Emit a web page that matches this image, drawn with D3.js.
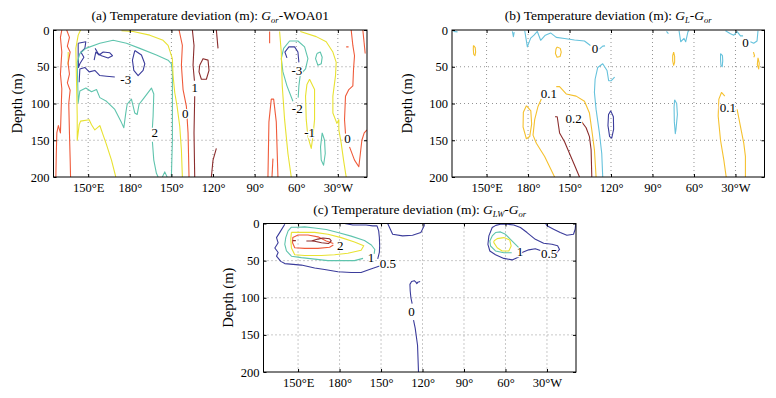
<!DOCTYPE html>
<html>
<head>
<meta charset="utf-8">
<title>temperature deviation sections</title>
<script src="https://d3js.org/d3.v7.min.js"></script>
<style>
body { margin: 0; background: #fff; }
text { font-family: "Liberation Serif", "DejaVu Serif", serif; fill: #000; }
</style>
</head>
<body>
<svg id="chart" width="776" height="398"></svg>
<script>
// axes
var lonTicks = [150, 180, 210, 240, 270, 300, 330];
var lonLabels = ["150°E", "180°", "150°", "120°", "90°", "60°", "30°W"];
var depthTicks = [0, 50, 100, 150, 200];
var lonRange = [125, 351];
var depthRange = [0, 200];

// titles: [text, kind] kind n = normal, i = italic, s = italic subscript
var titleA = [["(a) Temperature deviation (m): ", "n"], ["G", "i"], ["or", "s"], ["-WOA01", "n"]];
var titleB = [["(b) Temperature deviation (m): ", "n"], ["G", "i"], ["L", "s"], ["-", "n"], ["G", "i"], ["or", "s"]];
var titleC = [["(c) Temperature deviation (m): ", "n"], ["G", "i"], ["LW", "s"], ["-", "n"], ["G", "i"], ["or", "s"]];

// ---- panel (a) contour lines, points are [longitude east, depth m] ----
var aM3 = [
  [[142.8,18],[148.3,16],[147.6,25],[144.7,30],[146.9,37],[144,46],[143,51],[142.8,35],[142.8,18]],
  [[154.3,41],[155.5,30],[157.9,34],[160.8,30],[165.6,31],[167.5,35],[164.4,38],[159.6,35],[157.2,32],[155,25]],
  [[183.6,28],[188.4,34],[190.8,46],[189.6,55],[186,62],[182.9,55],[181.9,41],[183.6,28]],
  [[143.5,71],[144,53],[147.6,51],[150.7,57],[154.8,55],[158.4,62],[163.2,63],[169.2,64]],
  [[293.3,38],[291.8,30],[294.7,23],[298.8,23],[301.2,30],[301.9,44]]
];
var aM2 = [
  [[210,200],[210.7,150],[210.7,57],[210,46],[207.6,41],[199.2,34],[187.2,25],[177.6,18],[168,14],[158.4,18],[148.3,25],[144,32],[142.1,44],[142.8,99],[144,83],[148.3,79],[152.4,84],[156,81],[158.4,92],[163.2,97],[169.2,108],[174,126],[175.7,133],[177.1,113],[178.1,101],[181.2,94],[183.6,113],[185.3,115],[186.7,101],[189.6,94],[195.6,79],[197.3,87],[196.8,117],[196.3,133]],
  [[196.3,152],[197.3,177],[199.2,195],[200.4,200]],
  [[203.5,200],[205.2,193],[206.9,200]],
  [[297.6,97],[293.3,76],[290.4,57],[289.2,39],[290.9,25],[295.2,15],[301.2,15],[306,23],[308.4,39],[306.7,53],[302.9,61],[301.9,76],[301.4,92]],
  [[314.9,32],[317.3,30],[318.7,37],[318,46],[315.6,48],[313.9,39],[314.9,32]],
  [[318.7,140],[320.4,150],[320.9,168],[319.7,184],[318,177],[317.5,159],[318.7,140]]
];
var aM1 = [
  [[144.5,0],[142.8,7],[141.1,25],[141.6,71],[142.1,117],[142.1,150],[143.5,129],[144.5,124],[150.7,122],[152.4,129],[154.8,136],[158.4,130],[160.8,143],[163.2,156],[166.8,177],[169.9,200]],
  [[135.6,30],[135.6,48]],
  [[174,1],[182.4,2],[194.4,7],[204,14],[207.6,21],[210.7,39],[211.2,62],[212.4,85],[214.1,104],[216,131],[217.2,163],[217.9,200]],
  [[288,2],[289.2,30],[289.9,76],[291.6,122],[294,168],[296.4,200]],
  [[302.9,2],[314.4,9],[321.6,16],[326.4,30],[328.8,44],[328.3,62],[326.4,90],[326.4,113],[329.3,127],[330.7,122],[330.7,136],[332.4,154],[334.1,177],[336,200]],
  [[309.6,67],[313.2,81],[313.2,122],[312,145],[310.8,161],[308.4,145],[307.2,122],[306.7,90],[307.7,74],[309.6,67]]
];
var a0 = [
  [[126.7,200],[127,170],[127.4,140],[128.5,130],[130,140],[130.5,110],[131,80],[130,60],[131,30],[130,10],[131,0]],
  [[134.5,0],[136.5,10],[135,22],[137,30],[135.5,45],[136.5,60],[135,72],[137,82],[136,100],[136.5,140],[137,175],[137.3,200]],
  [[215.5,0],[217.9,21],[217.2,48],[218.4,81],[220.8,104],[222,140],[222.7,200]],
  [[279.6,200],[280.3,125],[282,94],[283.7,94],[285.6,125],[286.8,200]],
  [[282.5,200],[283.2,175]],
  [[280.8,2],[280.8,18]],
  [[339.6,0],[340.8,21],[342,35],[341.3,53],[340.8,76],[337.9,81],[335.5,90],[334.8,122],[335.5,141]],
  [[338.4,159],[342,177],[345.1,186],[346.1,170],[347.3,150],[349,140],[351,136]],
  [[348,0],[349.7,32]],
  [[336,23],[337.7,23]]
];
var a1 = [
  [[225.1,0],[226.3,21],[225.6,48],[226.6,69]],
  [[226.8,90],[226.3,140],[226.8,200]],
  [[230.4,48],[232.8,39],[236.4,41],[237.1,55],[235.2,67],[231.6,67],[229.9,57],[230.4,48]],
  [[242.4,0],[243.6,25]],
  [[238.8,200],[240,177],[242.4,161]]
];
var aLabels = [[177.1,67,"-3"],[198,140,"2"],[220,113,"0"],[226.8,78,"1"],[300.5,55,"-3"],[300.7,107,"-2"],[309.6,140,"-1"],[337,147,"0"]];

// ---- panel (b) ----
var bM01 = [
  [[239.8,110],[241.7,118],[241.9,135],[240.5,147],[239,145],[237.8,130],[238.2,115],[239.8,110]]
];
var b0 = [
  [[126,2],[129,2.5]],
  [[168.7,2],[169.4,9],[170,3]],
  [[177.6,1],[179.5,23],[181.9,11],[184.3,7],[186.7,2],[189.1,14],[192.5,7],[196.3,4],[200.4,10],[206.4,11.5],[213.6,13.5],[220.8,15],[225.1,21]],
  [[231.6,26],[234,22],[235.7,21.6]],
  [[234,200],[233.3,168],[231.6,140],[229.2,108],[228,85],[228.5,67],[230.4,51],[234,46],[237.1,55],[238.3,69],[240.2,69],[242.6,64]],
  [[280.1,2],[281.5,5]],
  [[289.2,1],[290.4,16],[292.8,11.5],[294,16],[295.7,2],[296.4,1]],
  [[319.2,32],[320.6,35],[320.8,42],[320.4,50],[319.5,48],[319.2,40],[319.2,32]],
  [[286,95],[287.5,100],[288,115],[287,135],[286.5,141],[285.8,125],[285.6,105],[286,95]],
  [[322.8,1],[326.4,5],[328.8,7],[331.2,2.3],[333.6,8],[335.5,8]],
  [[340.8,16],[343.2,18],[345.6,15],[346.3,1]]
];
var b01 = [
  [[140.5,21],[141.8,24],[142.1,30],[141.6,35],[140.7,33],[140.4,26],[140.5,21]],
  [[201,23],[203.3,25],[204,30],[203.2,36],[201,37],[199.8,32],[200.2,26],[201,23]],
  [[178.8,103],[182,110],[182.6,128],[181.2,145],[178.8,148],[176.4,132],[176.6,112],[178.8,103]],
  [[199.2,200],[192,172],[186,154],[183.6,143],[184.8,122],[187.2,104],[189.6,94]],
  [[200.4,77],[202.8,77],[207.6,87],[214.8,90],[220.8,97],[224.4,113],[226.1,136],[228,163],[229.2,200]],
  [[323.3,200],[321.6,177],[319.2,150],[317.5,117],[318,94],[319.9,85],[322.3,90]],
  [[331.2,108],[333.6,131],[336,154],[337.2,172],[337.2,200]],
  [[285.3,30],[286,36],[286,44],[285.3,48],[284.6,42],[284.6,35],[285.3,30]],
  [[343,30],[343.8,35],[343.2,37]],
  [[346.3,38],[347.2,45],[346.8,53],[345.8,47],[346.3,38]]
];
var b02 = [
  [[199.5,118],[201.1,118],[202.1,131],[202.8,140],[206.4,152],[210,168],[214.1,186],[217.2,200]],
  [[218.4,124],[222,133],[224.4,145],[225.6,163],[226.1,200]]
];
var bLabels = [[228.5,25,"0"],[337.2,17,"0"],[195,86,"0.1"],[213,120,"0.2"],[324.6,105,"0.1"]];

// ---- panel (c) ----
var c0 = [
  [[237.1,200],[236.4,164],[234.7,141],[233.5,130]],
  [[232.5,108],[231.6,100],[231.1,91],[230.9,82],[232.1,78],[234,77],[235.2,79],[235.9,81],[236.6,79],[238.3,78]]
];
var c05 = [
  [[183.6,0],[189.6,2],[199.2,2],[204,3.2],[207.1,3.2],[208.3,10],[208.8,19],[209,30],[208.8,39],[207.6,47.5]],
  [[209.5,57],[201.6,62],[195.6,66],[188.4,66],[178.8,65],[169.2,62],[162,60],[152.4,56],[146.4,55],[140.4,54],[137.5,51],[134.4,44],[135.6,39],[133.2,33],[135.6,26],[134.4,19],[136.8,12],[140.4,1]],
  [[214.8,0],[218.4,14.5],[225.6,16.7],[232.8,15.8],[238.8,12.2],[241.2,3.2],[241.2,0]],
  [[336.7,40],[339.1,35],[337.7,30],[333.6,28],[327.6,26.7],[321.6,21.3],[315.6,12.2],[310.8,5.4],[306,2],[301.2,1],[296.4,1],[293,2.5],[290.4,5.4],[288,16.7],[287.3,28],[288.7,37],[292.8,42],[298.8,47],[304.8,49],[309.6,45],[312,39],[316.8,35.5],[321.6,34],[325.2,36.5]],
  [[329,0],[330,3],[334.8,7.7],[339.6,12.2],[344.4,15.8],[349.2,14.5],[350.4,7.7],[350.8,0]]
];
var c1 = [
  [[197,47],[190.8,50],[181.2,50],[171.6,50],[162,48],[152.4,46],[145.2,44],[141.6,37],[140.4,28],[141.1,19],[142.8,10],[145.2,5],[150,5],[154.8,4.5],[162,6],[170.4,8],[178.8,12],[188.4,17],[198,23],[203,29],[205.5,35],[205,41]],
  [[309.6,32.6],[307.2,28],[303.6,21.3],[300,14.5],[296.4,11.3],[292.8,12.2],[290.4,16.7],[288.7,23.5],[289.2,30.3],[292.8,37],[298.8,39.4],[304.5,39.4]]
];
var c15 = [
  [[145.2,12],[154.8,12],[162,12],[171.6,14.5],[181.2,19],[190.8,25],[197.5,30],[195.6,36],[186,40],[176.4,42],[166.8,43],[154.8,43],[147.6,42],[145.2,33],[144.7,21],[145.2,12]],
  [[291.6,23.5],[294,20.4],[298.8,19],[303.1,22.2],[304.1,30.3],[302.4,37],[297.6,37],[294,32.6],[291.6,25.8],[291.6,23.5]]
];
var c2 = [
  [[175.5,29],[172.8,32],[164.4,33.5],[154.8,33.5],[147.6,32.6],[146,26],[146.2,19],[150,15.4],[157.2,15.4],[164.4,18],[170.4,23.5],[175.5,27]]
];
var c25 = [
  [[146,23],[148.4,23]],
  [[156,23.5],[159.6,23.5],[164.4,21],[168,19.5],[172.8,20.5],[174,23.5],[172,27],[167,26],[162,24],[159.6,23.5]]
];
var cLabels = [[180.5,30,"2"],[202.8,46,"1"],[215,54,"0.5"],[310.5,37,"1"],[331.5,40,"0.5"],[232.1,119,"0"]];

// colours of the contour levels
var navy = "#3b3c9b", teal = "#5fc4ad", yellow = "#e8e232", red = "#ef5b3b",
    darkred = "#8b2d2d", cyan = "#66c2dc", gold = "#f5c12f";

var serif = "Liberation Serif, DejaVu Serif, serif";

var panels = [
  {id: "a", box: [53.5, 30, 367, 177], title: titleA, labels: aLabels, yOff: 37,
   sets: [[aM3, navy], [aM2, teal], [aM1, yellow], [a0, red], [a1, darkred]]},
  {id: "b", box: [452, 30, 764.5, 177], title: titleB, labels: bLabels, yOff: 45,
   sets: [[bM01, navy], [b0, cyan], [b01, gold], [b02, darkred]]},
  {id: "c", box: [263.5, 223.5, 576, 372], title: titleC, labels: cLabels, yOff: 36,
   sets: [[c0, navy], [c05, navy], [c1, teal], [c15, yellow], [c2, red], [c25, darkred]]}
];

var svg = d3.select("#chart");

panels.forEach(function(p) {
  var left = p.box[0], top = p.box[1], right = p.box[2], bottom = p.box[3];
  var x = d3.scaleLinear().domain(lonRange).range([left, right]);
  var y = d3.scaleLinear().domain(depthRange).range([top, bottom]);
  var g = svg.append("g").attr("class", "panel-" + p.id);

  // dotted grid
  g.selectAll(".vgrid").data(lonTicks).enter().append("line")
    .attr("class", "vgrid")
    .attr("x1", function(d) { return x(d); }).attr("x2", function(d) { return x(d); })
    .attr("y1", top).attr("y2", bottom)
    .attr("stroke", "#777").attr("stroke-width", 0.8).attr("stroke-dasharray", "1,3");
  g.selectAll(".hgrid").data(depthTicks.slice(1, -1)).enter().append("line")
    .attr("class", "hgrid")
    .attr("y1", function(d) { return y(d); }).attr("y2", function(d) { return y(d); })
    .attr("x1", left).attr("x2", right)
    .attr("stroke", "#777").attr("stroke-width", 0.8).attr("stroke-dasharray", "1,3");

  // contours, clipped to the box
  svg.append("clipPath").attr("id", "clip-" + p.id).append("rect")
    .attr("x", left).attr("y", top).attr("width", right - left).attr("height", bottom - top);
  var line = d3.line().x(function(d) { return x(d[0]); }).y(function(d) { return y(d[1]); });
  var cg = g.append("g").attr("clip-path", "url(#clip-" + p.id + ")");
  p.sets.forEach(function(s) {
    cg.append("g").selectAll("path").data(s[0]).enter().append("path")
      .attr("d", line)
      .attr("fill", "none")
      .attr("stroke", s[1])
      .attr("stroke-width", 1.1)
      .attr("stroke-linejoin", "round");
  });

  // contour labels
  g.selectAll(".clabel").data(p.labels).enter().append("text")
    .attr("class", "clabel")
    .attr("x", function(d) { return x(d[0]); })
    .attr("y", function(d) { return y(d[1]); })
    .attr("dy", "0.35em")
    .attr("text-anchor", "middle")
    .attr("font-family", serif)
    .attr("font-size", 13)
    .attr("stroke", "#fff").attr("stroke-width", 2.5).attr("paint-order", "stroke")
    .text(function(d) { return d[2]; });

  // axes, MATLAB style ticks pointing inward
  var xAxis = d3.axisBottom(x).tickValues(lonTicks)
    .tickFormat(function(d, i) { return lonLabels[i]; })
    .tickSize(-3).tickPadding(6);
  g.append("g").attr("transform", "translate(0," + bottom + ")").call(xAxis)
    .attr("font-size", 12.5).attr("font-family", serif)
    .call(function(a) { a.select(".domain").remove(); });
  g.append("g").attr("transform", "translate(0," + top + ")")
    .call(d3.axisTop(x).tickValues(lonTicks).tickSize(-3).tickFormat(""))
    .call(function(a) { a.select(".domain").remove(); });

  var yAxis = d3.axisLeft(y).tickValues(depthTicks).tickSize(-3).tickPadding(4);
  g.append("g").attr("transform", "translate(" + left + ",0)").call(yAxis)
    .attr("font-size", 12.5).attr("font-family", serif)
    .call(function(a) { a.select(".domain").remove(); });
  g.append("g").attr("transform", "translate(" + right + ",0)")
    .call(d3.axisRight(y).tickValues(depthTicks).tickSize(-3).tickFormat(""))
    .call(function(a) { a.select(".domain").remove(); });

  g.append("rect")
    .attr("x", left).attr("y", top).attr("width", right - left).attr("height", bottom - top)
    .attr("fill", "none").attr("stroke", "#000").attr("stroke-width", 1);

  // y label
  g.append("text")
    .attr("transform", "translate(" + (left - p.yOff) + "," + ((top + bottom) / 2) + ") rotate(-90)")
    .attr("text-anchor", "middle")
    .attr("dy", "0.35em")
    .attr("font-family", serif)
    .attr("font-size", 14.5)
    .text("Depth (m)");

  // title
  var t = g.append("text")
    .attr("x", (left + right) / 2)
    .attr("y", top - 10)
    .attr("text-anchor", "middle")
    .attr("font-family", serif)
    .attr("font-size", 13.5);
  var shifted = false;
  p.title.forEach(function(part) {
    var ts = t.append("tspan").text(part[0]);
    if (part[1] === "i") ts.attr("font-style", "italic");
    if (part[1] === "s") {
      ts.attr("font-style", "italic").attr("font-size", 8.5).attr("dy", 3);
      shifted = true;
    } else if (shifted) {
      ts.attr("dy", -3);
      shifted = false;
    }
  });
});
</script>
</body>
</html>
